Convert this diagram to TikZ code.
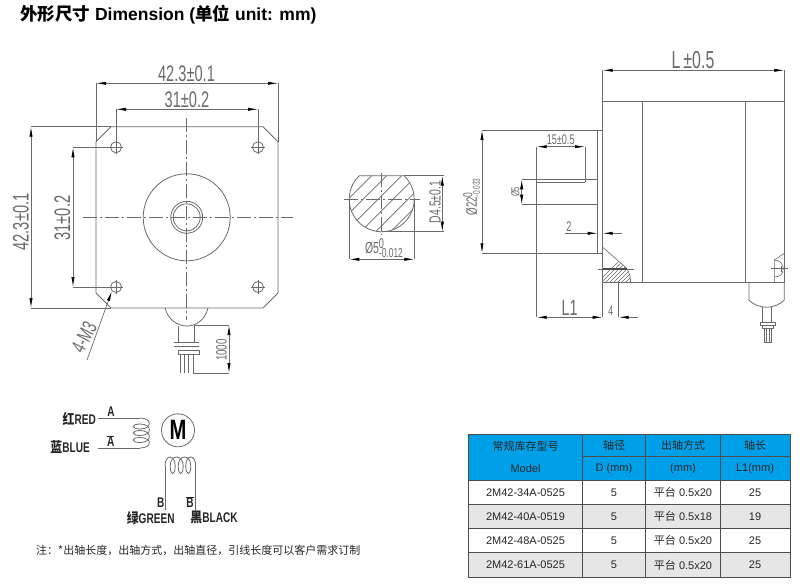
\documentclass[tikz,border=0pt]{standalone}
\usepackage{fontspec}
\setmainfont{Liberation Sans}
\newfontfamily\cadfont[FakeStretch=0.65]{Liberation Sans}
\newfontfamily\wirefont[FakeStretch=0.72]{Liberation Sans}
\newfontfamily\cjk{Noto Sans CJK SC}
\newfontfamily\cjknarrow[FakeStretch=0.85]{Noto Sans CJK SC}
\usetikzlibrary{arrows.meta}
\definecolor{headBlue}{HTML}{00A0E9}
\definecolor{rowGray}{HTML}{E6E6E6}
\definecolor{cadGray}{HTML}{6A6A6A}
\tikzset{
    part/.style={draw=cadGray, line width=0.8pt},
    thinLine/.style={draw=cadGray, line width=0.6pt},
    centerLine/.style={draw=cadGray, line width=0.6pt, dash pattern=on 14pt off 3pt on 2pt off 3pt},
    dimLine/.style={draw=cadGray, line width=0.7pt, {Latex[length=10pt,width=3.2pt,black]}-{Latex[length=10pt,width=3.2pt,black]}},
    oneArrow/.style={draw=cadGray, line width=0.7pt, -{Latex[length=10pt,width=3.2pt,black]}},
    dimText/.style={font=\cadfont\fontsize{#1}{#1}\selectfont, text=cadGray, inner sep=0pt},
    hole/.style={circle, draw=cadGray, line width=0.8pt, minimum size=11pt, inner sep=0pt},
    wire/.style={draw=cadGray, line width=0.8pt},
    wireText/.style={font=\wirefont\bfseries\fontsize{14}{14}\selectfont, text=black!85, inner sep=0pt},
    cell/.style={font=\fontsize{11}{11}\selectfont, text=black!85, inner sep=0pt}
}
\begin{document}
\begin{tikzpicture}[x=1pt,y=-1pt]
    \useasboundingbox (0,0) rectangle (800,587);

    % title
    \node[anchor=west, inner sep=0pt, font=\bfseries\fontsize{17.5}{18}\selectfont] (title) at (20,15)
        {{\cjk\bfseries 外形尺寸} Dimension ({\cjk\bfseries 单位} unit: mm)};

    % front view
    \draw[part] (111,126.7) -- (263,126.7) -- (278,141.7) -- (278,293) -- (263,308) -- (111,308) -- (96,293) -- (96,141.7) -- cycle;
    \node[hole] (H1) at (116,147.3) {};
    \node[hole] (H2) at (258,147.3) {};
    \node[hole] (H3) at (116,287) {};
    \node[hole] (H4) at (258,287) {};
    \foreach \hh in {H1,H2,H3,H4}
        \draw[thinLine] ([xshift=-7pt]\hh.center) -- ([xshift=7pt]\hh.center) ([yshift=-7pt]\hh.center) -- ([yshift=7pt]\hh.center);
    \node[circle, part, minimum size=87pt, inner sep=0pt] (boss) at (186.7,217.3) {};
    \node[circle, part, minimum size=32pt, inner sep=0pt] (shaftOut) at (186.7,217.3) {};
    \node[circle, part, minimum size=27pt, inner sep=0pt] (shaftIn) at (186.7,217.3) {};
    \draw[centerLine] (83,217.3) -- (293,217.3);
    \draw[centerLine] (186.7,118) -- (186.7,320);
    % cable outlet
    \draw[part] (165,308) .. controls (168,320) and (178,326) .. (187,326) .. controls (196,326) and (205,320) .. (208,308);
    \draw[part] (178,326) -- (178,342) (194,326) -- (194,342);
    \draw[part] (174,342) -- (199,342) (174,346) -- (199,346);
    \draw[part] (178,350) rectangle (199,354);
    \foreach \xx in {180,184.3,188.6,193}
        \draw[thinLine] (\xx,354) -- (\xx,373);

    % front view dimensions
    \coordinate (wTopL) at (96,83.3);
    \coordinate (wTopR) at (278,83.3);
    \draw[thinLine] (wTopL) -- (96,141.7) (wTopR) -- (278,141.7);
    \draw[dimLine] (wTopL) -- (wTopR);
    \node[dimText=22.5] (wText) at (186.5,73.5) {42.3±0.1};
    \coordinate (pTopL) at (116,109.3);
    \coordinate (pTopR) at (258,109.3);
    \draw[thinLine] (pTopL) -- (H1.north) (pTopR) -- (H2.north);
    \draw[dimLine] (pTopL) -- (pTopR);
    \node[dimText=22.5] (pText) at (187,100) {31±0.2};
    \coordinate (hLeftT) at (31,126.7);
    \coordinate (hLeftB) at (31,308);
    \draw[thinLine] (hLeftT) -- (111,126.7) (hLeftB) -- (111,308);
    \draw[dimLine] (hLeftT) -- (hLeftB);
    \node[dimText=22.5, rotate=90] (hText) at (21,222) {42.3±0.1};
    \coordinate (qLeftT) at (73,147.3);
    \coordinate (qLeftB) at (73,287);
    \draw[thinLine] (qLeftT) -- (H1.west) (qLeftB) -- (H3.west);
    \draw[dimLine] (qLeftT) -- (qLeftB);
    \node[dimText=22.5, rotate=90] (qText) at (62.5,218) {31±0.2};
    \coordinate (leadEnd) at (87,360);
    \draw[oneArrow] (leadEnd) -- (H3.south west);
    \node[dimText=21, rotate=62] (leadText) at (84,337) {4-M3};
    \coordinate (cabT) at (229,325);
    \coordinate (cabB) at (229,373);
    \draw[thinLine] (194,325) -- (cabT) (193,373) -- (cabB);
    \draw[dimLine] (cabT) -- (cabB);
    \node[dimText=15, rotate=90] (cabText) at (221.5,350) {1000};

    % shaft section
    \begin{scope}
        \clip (359.3,175.7) -- (404.1,175.7) arc (-46.4:226.4:32.5) -- cycle;
        \foreach \dd in {-48.5,-33.5,-18.5,-3.5,11.5,26.5,41.5}
            \draw[thinLine] (381.7+\dd-40,199.2+40) -- (381.7+\dd+40,199.2-40);
    \end{scope}
    \draw[part] (359.3,175.7) -- (404.1,175.7) arc (-46.4:226.4:32.5);
    \draw[centerLine] (344,199.2) -- (420,199.2);
    \draw[centerLine] (381.7,173) -- (381.7,235);
    \coordinate (dTop) at (442.3,175.7);
    \coordinate (dBot) at (442.3,231.7);
    \draw[thinLine] (404,175.7) -- (443.5,175.7) (381.7,231.7) -- (443.5,231.7);
    \draw[dimLine] (dTop) -- (dBot);
    \node[dimText=16, rotate=90] (dText) at (435,202) {D4.5±0.1};
    \coordinate (phiL) at (349.3,259.3);
    \coordinate (phiR) at (414.3,259.3);
    \draw[thinLine] (phiL) -- (349.3,199.2) (phiR) -- (414.3,199.2);
    \draw[dimLine] (phiL) -- (phiR);
    \node[dimText=16] (phiText) at (384,248) {Ø5\rlap{\raisebox{5.5pt}{\fontsize{14}{14}\selectfont 0}}\raisebox{-3.5pt}{\fontsize{13}{13}\selectfont -0.012}};

    % side view
    \draw[part] (602.7,101.3) rectangle (784.3,282.7);
    \draw[thinLine] (642.7,101.3) -- (642.7,282.7) (745.7,101.3) -- (745.7,282.7);
    \draw[thinLine] (597.7,130) -- (597.7,253.3);
    \draw[thinLine] (482,130) -- (602.7,130) (482,253.3) -- (602.7,253.3);
    \draw[thinLine] (521.7,179.3) -- (597.7,179.3) (521.7,204.7) -- (597.7,204.7);
    \draw[thinLine] (536.7,182.3) -- (585,182.3);
    \draw[thinLine] (585,146.7) -- (585,182.3);
    % front bearing cut
    \begin{scope}
        \clip (602.7,247.3) -- (626.7,268.3) .. controls (629,272) and (630.7,277) .. (630.7,282.7) -- (602.7,282.7) -- cycle;
        \foreach \dd in {0,4,...,48}
            \draw[draw=cadGray, line width=0.4pt] (600+\dd-20,283+20-3) -- (600+\dd+20,283-20-3);
    \end{scope}
    \draw[thinLine] (602.7,247.3) -- (626.7,268.3) .. controls (629,272) and (630.7,277) .. (630.7,282.7);
    \draw[thinLine] (597.7,269) -- (634,269);
    \draw[draw=black!70, line width=1.5pt] (602.7,269) -- (626.7,269);
    % rear bump and connector
    \draw[thinLine] (774.3,282.7) -- (774.3,260) -- (784.3,253.3);
    \draw[thinLine] (774.3,260) .. controls (780,260) and (783,264) .. (783.3,268.7) .. controls (783,274) and (780,277) .. (774.3,277);
    \draw[thinLine] (771,268.7) -- (788,268.7) (781.7,266) -- (781.7,271.5);
    \draw[part] (749,282.7) -- (749,300) .. controls (752,304) and (760,307.3) .. (766.7,307.3) .. controls (773,307.3) and (781,304) .. (784.3,300) -- (784.3,282.7);
    \draw[thinLine] (762.7,307.3) -- (762.7,322.7) (771.7,307.3) -- (771.7,322.7);
    \draw[thinLine] (760,322.7) rectangle (775.7,325.5);
    \draw[thinLine] (762,325.5) rectangle (773.5,328);
    \foreach \xx in {764,766.6,769.2,771.7}
        \draw[thinLine] (\xx,328) -- (\xx,342.7);
    \draw[thinLine] (764,342.7) -- (771.7,342.7);

    % side view dimensions
    \coordinate (lenL) at (602.7,70.3);
    \coordinate (lenR) at (784.3,70.3);
    \draw[thinLine] (lenL) -- (602.7,101.3) (lenR) -- (784.3,101.3);
    \draw[dimLine] (lenL) -- (lenR);
    \node[dimText=24.5] (lenText) at (693,60) {L\kern3pt±0.5};
    \coordinate (pilotT) at (482,130);
    \coordinate (pilotB) at (482,253.3);
    \draw[dimLine] (pilotT) -- (pilotB);
    \node[dimText=15, rotate=90] (pilotText) at (471.7,197) {Ø22\rlap{\raisebox{4.5pt}{\fontsize{13}{13}\selectfont 0}}\raisebox{-3pt}{\fontsize{10}{10}\selectfont -0.033}};
    \coordinate (shT) at (521.7,179.3);
    \coordinate (shB) at (521.7,204.7);
    \draw[dimLine] (shT) -- (shB);
    \node[dimText=11.5, rotate=90] (shText) at (515.5,192) {Ø5};
    \coordinate (flatL) at (536.7,146.7);
    \coordinate (flatR) at (585,146.7);
    \draw[dimLine] (flatL) -- (flatR);
    \node[dimText=14] (flatText) at (560.7,139.5) {15±0.5};
    \coordinate (oneL) at (536.7,317.3);
    \coordinate (oneR) at (602.7,317.3);
    \draw[thinLine] (flatL) -- (oneL) (602.7,282.7) -- (oneR);
    \draw[dimLine] (oneL) -- (oneR);
    \node[dimText=22] (oneText) at (569.5,308) {L1};
    \coordinate (fourT) at (618.7,282.7);
    \coordinate (fourR) at (618.7,317.3);
    \coordinate (fourEnd) at (638,317.3);
    \draw[thinLine] (fourT) -- (fourR);
    \draw[oneArrow] (fourEnd) -- (fourR);
    \node[dimText=13.5] (fourText) at (610.7,310.7) {4};
    \coordinate (twoA) at (565,233.3);
    \coordinate (twoB) at (597.7,233.3);
    \coordinate (twoC) at (621.7,233.3);
    \coordinate (twoD) at (602.7,233.3);
    \draw[oneArrow] (twoA) -- (twoB);
    \draw[oneArrow] (twoC) -- (twoD);
    \node[dimText=14] (twoText) at (569,227) {2};

    % winding diagram
    \node[circle, draw=cadGray, line width=0.8pt, minimum size=33pt, inner sep=0pt, font=\wirefont\bfseries\fontsize{28}{28}\selectfont] (motor) at (178,430.3) {M};
    \node[wireText, anchor=east] (red) at (96,419) {{\cjknarrow\bfseries 红}RED};
    \node[wireText, anchor=east] (blue) at (90,447.5) {{\cjknarrow\bfseries 蓝}BLUE};
    \node[wireText] (pinA) at (111,411.7) {A};
    \node[wireText] (pinAbar) at (110.7,441) {$\overline{\hbox{A}}$};
    \draw[wire] (98,418) -- (140,418);
    \draw[wire] (98,448) -- (140,448);
    \foreach \yy/\zz/\tt in {418/429/424,424/435.5/430.5,430.5/442.5/437.5}
        \draw[wire] (140,\yy) .. controls (152.5,\yy) and (152.5,\zz) .. (140,\zz) .. controls (131,\zz) and (131,\tt) .. (140,\tt);
    \draw[wire] (140,437.5) .. controls (152.5,437.5) and (152.5,448) .. (140,448);
    \draw[wire] (165,510) -- (165,466);
    \draw[wire] (195.7,510) -- (195.7,466);
    \foreach \xx/\vv/\tt in {165/175.2/170.2,170.2/183.2/178.2,178.2/190.8/185.8}
        \draw[wire] (\xx,466) .. controls (\xx,454) and (\vv,454) .. (\vv,466) .. controls (\vv,476) and (\tt,476) .. (\tt,466);
    \draw[wire] (185.8,466) .. controls (185.8,454) and (195.7,454) .. (195.7,466);
    \node[wireText] (pinB) at (160.7,502.7) {B};
    \node[wireText] (pinBbar) at (190,502) {$\overline{\hbox{B}}$};
    \node[wireText] (green) at (150.7,517.7) {{\cjknarrow\bfseries 绿}GREEN};
    \node[wireText] (black) at (214,517) {{\cjknarrow\bfseries 黑}BLACK};

    % note
    \node[anchor=west, inner sep=0pt, font=\cjk\fontsize{11}{11}\selectfont, text=black!85] (note) at (36,550)
        {注：*出轴长度，出轴方式，出轴直径，引线长度可以客户需求订制};

    % table
    \fill[headBlue] (468.3,434) rectangle (790,480.3);
    \fill[rowGray] (468.3,504.3) rectangle (790,528.3);
    \fill[rowGray] (468.3,552.7) rectangle (790,577.3);
    \draw[draw=black!70, line width=1pt] (468.3,434) rectangle (790,577.3);
    \foreach \xx in {582.7,645.7,720.7}
        \draw[draw=black!70, line width=0.9pt] (\xx,434) -- (\xx,577.3);
    \draw[draw=black!70, line width=0.8pt] (582.7,456.7) -- (790,456.7);
    \foreach \yy in {480.3,504.3,528.3,552.7}
        \draw[draw=black!70, line width=0.9pt] (468.3,\yy) -- (790,\yy);
    \node[cell] (h1) at (525.5,446) {\cjk 常规库存型号};
    \node[cell] (h2) at (614,445.5) {\cjk 轴径};
    \node[cell] (h3) at (683,445.5) {\cjk 出轴方式};
    \node[cell] (h4) at (755,445.5) {\cjk 轴长};
    \node[cell] (m1) at (525.5,468.5) {Model};
    \node[cell] (m2) at (614,468.5) {D (mm)};
    \node[cell] (m3) at (683,468.5) {(mm)};
    \node[cell] (m4) at (755,468.5) {L1(mm)};
    \foreach \yy/\mm/\ff/\ll in {492.5/2M42-34A-0525/0.5x20/25,516.5/2M42-40A-0519/0.5x18/19,540.5/2M42-48A-0525/0.5x20/25,565/2M42-61A-0525/0.5x20/25}{
        \node[cell] (mod\ll\yy) at (525.5,\yy) {\mm};
        \node[cell] (dia\ll\yy) at (614,\yy) {5};
        \node[cell] (flt\ll\yy) at (683,\yy) {{\cjk 平台} \ff};
        \node[cell] (lng\ll\yy) at (755,\yy) {\ll};
    }
\end{tikzpicture}
\end{document}
